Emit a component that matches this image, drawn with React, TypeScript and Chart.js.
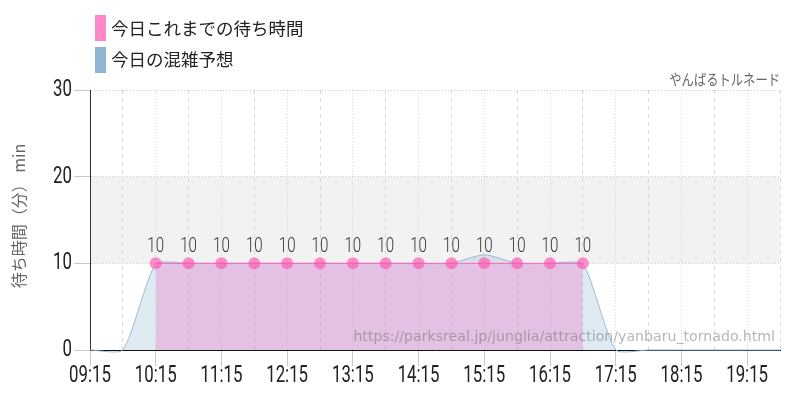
import { useEffect, useRef } from 'react';
import Chart from 'chart.js/auto';

const timeLabels = ['09:15', '09:45', '10:15', '10:45', '11:15', '11:45', '12:15', '12:45', '13:15', '13:45', '14:15', '14:45', '15:15', '15:45', '16:15', '16:45', '17:15', '17:45', '18:15', '18:45', '19:15', '19:45'];
const waitTimes = [null, null, 10, 10, 10, 10, 10, 10, 10, 10, 10, 10, 10, 10, 10, 10, null, null, null, null, null, null];
const forecast = [0, 0, 9.9, 10, 10, 10, 10, 10, 10, 10, 10, 10, 11, 10, 10, 9.9, 0, 0, 0, 0, 0, 0];
const yTicks = [0, 10, 20, 30];
const bandRange = [10, 20];

const legendItems = [
  { text: '今日これまでの待ち時間', color: '#ff88c8' },
  { text: '今日の混雑予想', color: '#90b4d2' },
];
const attractionName = 'やんばるトルネード';
const sourceUrl = 'https://parksreal.jp/junglia/attraction/yanbaru_tornado.html';
const yAxisTitle = '待ち時間（分） min';

const JP_FONT = '"Noto Sans CJK JP"';
const NUM_FONT = 'Roboto';

// no condensed font is installed, so squeeze the text horizontally
function narrowText(ctx: CanvasRenderingContext2D, text: string, x: number, y: number, squeeze: number) {
  ctx.save();
  ctx.translate(x, y);
  ctx.scale(squeeze, 1);
  ctx.fillText(text, 0, 0);
  ctx.restore();
}

const overlayPlugin = {
  id: 'overlay',
  beforeDatasetsDraw(chart: any) {
    // grey band between 10 and 20
    const { ctx, chartArea, scales } = chart;
    const top = scales.y.getPixelForValue(bandRange[1]);
    const bottom = scales.y.getPixelForValue(bandRange[0]);
    ctx.save();
    ctx.globalCompositeOperation = 'destination-over';
    ctx.fillStyle = '#f2f2f2';
    ctx.fillRect(chartArea.left, top, chartArea.right - chartArea.left, bottom - top);
    ctx.restore();
  },
  afterDraw(chart: any) {
    const { ctx, chartArea, scales } = chart;
    ctx.save();

    // value labels above the wait time points
    const meta = chart.getDatasetMeta(1);
    ctx.font = `300 21px ${NUM_FONT}`;
    ctx.fillStyle = '#333';
    ctx.textAlign = 'center';
    ctx.textBaseline = 'alphabetic';
    meta.data.forEach((pt: any, i: number) => {
      if (waitTimes[i] == null) return;
      narrowText(ctx, String(waitTimes[i]), pt.x, pt.y - 11, 0.72);
    });

    // axis labels
    ctx.font = `400 24px ${NUM_FONT}`;
    ctx.fillStyle = '#222';
    ctx.textBaseline = 'middle';
    ctx.textAlign = 'center';
    timeLabels.forEach((label, i) => {
      if (i % 2 !== 0) return;
      narrowText(ctx, label, scales.x.getPixelForTick(i), 376, 0.7);
    });
    ctx.textAlign = 'right';
    yTicks.forEach((value) => {
      narrowText(ctx, String(value), 72, scales.y.getPixelForValue(value), 0.7);
    });

    // y axis title
    ctx.save();
    ctx.translate(19, 216);
    ctx.rotate(-Math.PI / 2);
    ctx.textAlign = 'center';
    ctx.fillStyle = '#666';
    ctx.font = `16px ${JP_FONT}`;
    ctx.fillText(yAxisTitle, 0, 0);
    ctx.restore();

    // legend
    legendItems.forEach((item, i) => {
      const y = 15 + i * 32;
      ctx.fillStyle = item.color;
      ctx.fillRect(95, y, 11, 26);
      ctx.fillStyle = '#222';
      ctx.font = `17.5px ${JP_FONT}`;
      ctx.textAlign = 'left';
      ctx.textBaseline = 'middle';
      ctx.fillText(item.text, 111, y + 13 - i);
    });

    ctx.fillStyle = '#666';
    ctx.font = `15px ${JP_FONT}`;
    ctx.textAlign = 'right';
    ctx.textBaseline = 'middle';
    narrowText(ctx, attractionName, chartArea.right, 79, 0.82);

    ctx.fillStyle = 'rgba(110,110,110,0.5)';
    ctx.font = '14.15px "DejaVu Sans"';
    ctx.fillText(sourceUrl, 775, 337);
    ctx.restore();
  },
};

export default function App() {
  const canvasRef = useRef<HTMLCanvasElement | null>(null);

  useEffect(() => {
    const canvas = canvasRef.current;
    if (!canvas) return;

    const chart = new Chart(canvas, {
      type: 'line',
      data: {
        labels: timeLabels,
        datasets: [
          {
            label: '今日の混雑予想',
            data: forecast,
            borderColor: 'rgba(144,180,210,0.9)',
            backgroundColor: 'rgba(144,180,210,0.28)',
            borderWidth: 1,
            pointRadius: 0,
            tension: 0.2,
            capBezierPoints: false,
            fill: 'origin',
            clip: false,
            order: 2,
          },
          {
            label: '今日これまでの待ち時間',
            data: waitTimes,
            borderColor: '#ff66bb',
            backgroundColor: 'rgba(240,100,190,0.3)',
            borderWidth: 1,
            pointRadius: 6,
            pointBackgroundColor: 'rgba(255,85,175,0.65)',
            pointBorderWidth: 0,
            tension: 0,
            fill: 'origin',
            order: 1,
          },
        ],
      },
      options: {
        animation: false,
        responsive: false,
        layout: { padding: { top: 90, right: 20, left: 0, bottom: 0 } },
        plugins: { legend: { display: false }, tooltip: { enabled: false } },
        scales: {
          x: {
            offset: false,
            afterFit: (axis: any) => {
              axis.height = 50;
            },
            border: {
              color: '#111',
              width: 1,
              dash: (c: any) => (c.index % 2 === 0 ? [1, 2] : [4, 4]),
            },
            grid: {
              tickLength: 16,
              color: '#d8d8d8',
              tickColor: (c: any) => (c.index % 2 === 0 ? '#c8c8c8' : 'transparent'),
              tickBorderDash: [],
            },
            ticks: { autoSkip: false, maxRotation: 0, display: false },
          },
          y: {
            min: 0,
            max: 30,
            afterBuildTicks: (axis: any) => {
              axis.ticks = yTicks.map((value) => ({ value }));
            },
            afterFit: (axis: any) => {
              axis.width = 90;
            },
            border: { color: '#333', width: 1, dash: [1, 2] },
            grid: {
              tickLength: 16,
              color: '#c8c8c8',
              tickColor: '#c8c8c8',
              tickBorderDash: [],
            },
            ticks: { display: false },
          },
        },
      },
      plugins: [overlayPlugin],
    } as any);

    return () => {
      chart.destroy();
    };
  }, []);

  return (
    <div style={{ position: 'fixed', left: 0, top: 0, width: 800, height: 400, background: '#fff' }}>
      <canvas ref={canvasRef} width={800} height={400} style={{ display: 'block' }} />
    </div>
  );
}
